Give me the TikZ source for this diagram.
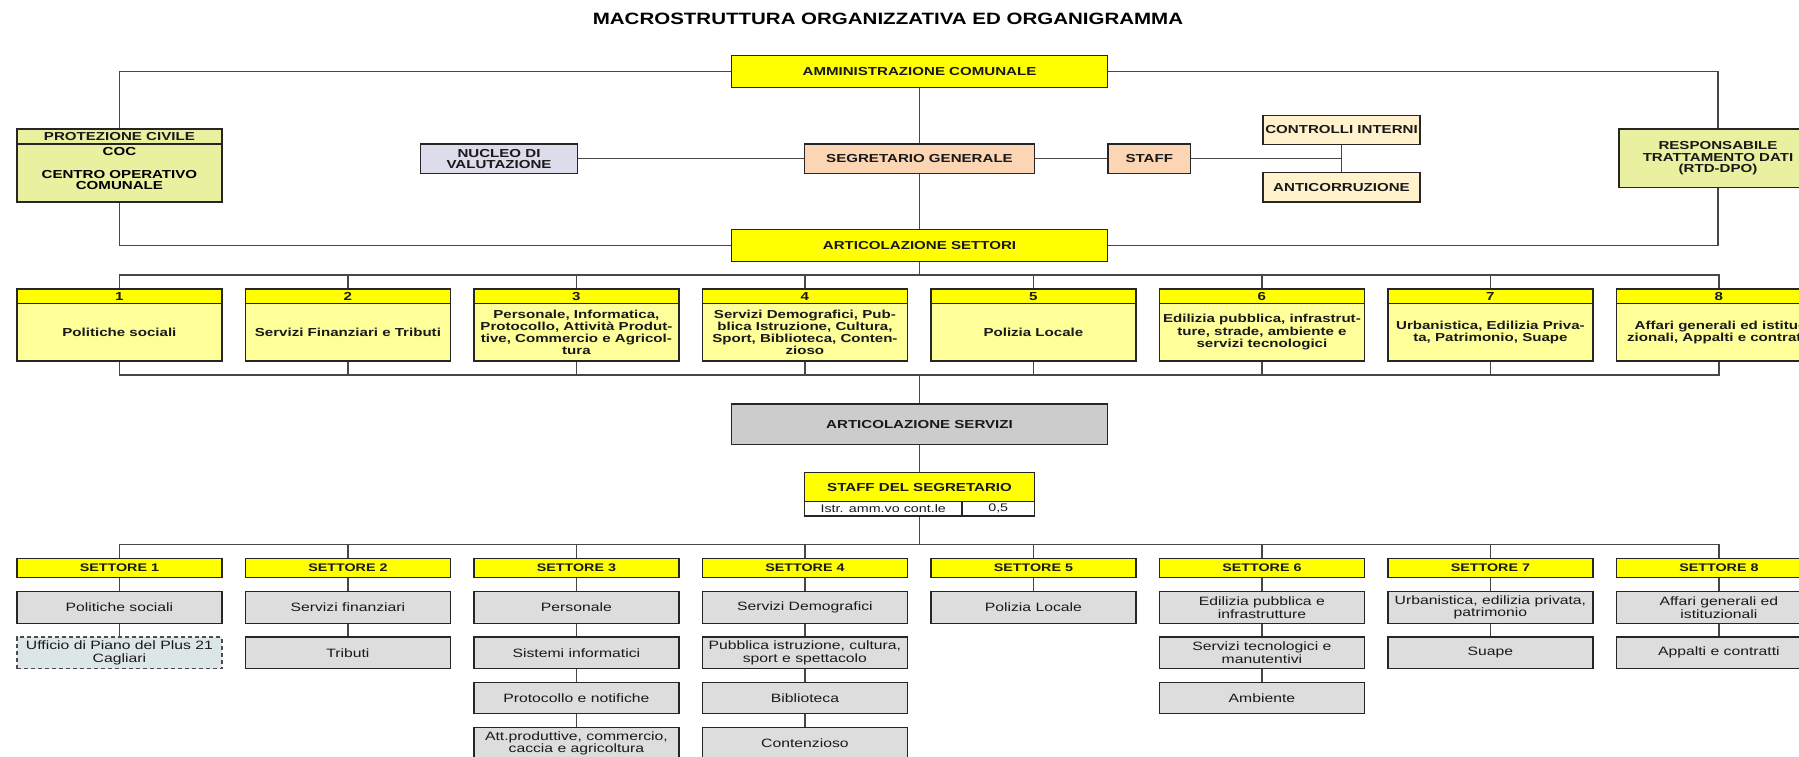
\documentclass[tikz,border=0pt]{standalone}
\usepackage{fontspec}
\setmainfont{Liberation Sans}
\newfontfamily\bxfont[FakeStretch=1.3]{Liberation Sans}
\newfontfamily\ttlfont[FakeStretch=1.25]{Liberation Sans}
\definecolor{ybright}{HTML}{FFFF00}
\definecolor{ylight}{HTML}{FFFF99}
\definecolor{ygreen}{RGB}{233,241,160}
\definecolor{peach}{HTML}{FCD5B4}
\definecolor{cream}{HTML}{FFF2CC}
\definecolor{lavender}{RGB}{220,220,235}
\definecolor{servgray}{HTML}{CCCCCC}
\definecolor{boxgray}{HTML}{DDDDDD}
\definecolor{uffgray}{RGB}{221,230,230}
\begin{document}
\begin{tikzpicture}[x=1pt,y=-1pt,
  conn/.style={draw=black!72,line width=1.4pt},
  bx/.style={draw=black!85,line width=1.2pt,inner sep=0pt,align=center,text=black!90},
  fb/.style={font=\bxfont\bfseries\fontsize{11.6}{12.2}\selectfont},
  fbt/.style={font=\bxfont\bfseries\fontsize{11.6}{11.2}\selectfont},
  fh/.style={font=\bxfont\bfseries\fontsize{11}{12}\selectfont},
  fg/.style={font=\bxfont\fontsize{12.1}{12.5}\selectfont},
  fi/.style={font=\bxfont\fontsize{11}{12}\selectfont},
  secthead/.style={bx,fb,fill=ybright,minimum width=205pt,minimum height=14.3pt},
  sectbody/.style={bx,fb,fill=ylight,minimum width=205pt,minimum height=57.7pt},
  setthead/.style={bx,fh,fill=ybright,minimum width=205pt,minimum height=19pt},
  gbox/.style={bx,fg,fill=boxgray,minimum width=205pt,minimum height=31.5pt},
  ubox/.style={bx,fg,fill=uffgray,draw=black!70,dash pattern=on 4pt off 3pt,minimum width=205pt,minimum height=31.5pt}
]
\useasboundingbox (0,0) rectangle (1799,756);
\fill[white] (0,0) rectangle (1799,756);

% title
\node[font=\ttlfont\bfseries\fontsize{16.4}{20}\selectfont,inner sep=0pt] (title) at (888,18.5) {MACROSTRUTTURA ORGANIZZATIVA ED ORGANIGRAMMA};

% top level boxes
\node[bx,fb,fill=ybright,minimum width=376.6pt,minimum height=32pt] (amm) at (919.5,71.3) {AMMINISTRAZIONE COMUNALE};
\node[bx,fb,fill=peach,minimum width=230pt,minimum height=29.3pt] (seg) at (919.5,158.7) {SEGRETARIO GENERALE};
\node[bx,fb,fill=peach,minimum width=82.5pt,minimum height=29.3pt] (staff) at (1149.3,158.7) {STAFF};
\node[bx,fb,fill=ybright,minimum width=376.6pt,minimum height=32pt] (set) at (919.5,245.6) {ARTICOLAZIONE SETTORI};
\node[bx,fbt,fill=lavender,minimum width=157pt,minimum height=29.3pt] (nuc) at (499,158.7) {NUCLEO DI\\VALUTAZIONE};
\node[bx,fb,fill=cream,minimum width=157pt,minimum height=28.6pt] (ctrl) at (1341.5,130) {CONTROLLI INTERNI};
\node[bx,fb,fill=cream,minimum width=157pt,minimum height=29.3pt] (anti) at (1341.5,187.3) {ANTICORRUZIONE};
\node[bx,fb,fill=ygreen,minimum width=205pt,minimum height=15pt] (ph) at (119.4,136.5) {PROTEZIONE CIVILE};
\node[bx,fill=ygreen,minimum width=205pt,minimum height=58pt] (pb) at (119.4,173) {};
\node[fbt,align=center,inner sep=0pt] (pbt) at (119.4,168.5) {COC\\\mbox{}\\CENTRO OPERATIVO\\COMUNALE};
\node[bx,fbt,fill=ygreen,minimum width=198pt,minimum height=58.3pt] (resp) at (1718,158.2) {RESPONSABILE\\TRATTAMENTO DATI\\(RTD-DPO)};

% top connectors
\draw[conn] (amm.west) -| (ph.north);
\draw[conn] (pb.south) |- (set.west);
\draw[conn] (amm.east) -| (resp.north);
\draw[conn] (resp.south) |- (set.east);
\draw[conn] (amm.south) -- (seg.north);
\draw[conn] (seg.south) -- (set.north);
\draw[conn] (nuc.east) -- (seg.west);
\draw[conn] (seg.east) -- (staff.west);
\draw[conn] (staff.east) -- (staff.east -| ctrl.south);
\draw[conn] (ctrl.south) -- (anti.north);

% sectors
\foreach \i/\t in {
  1/{Politiche sociali},
  2/{Servizi Finanziari e Tributi},
  3/{Personale, Informatica,\\Protocollo, Attività Produt-\\tive, Commercio e Agricol-\\tura},
  4/{Servizi Demografici, Pub-\\blica Istruzione, Cultura,\\Sport, Biblioteca, Conten-\\zioso},
  5/{Polizia Locale},
  6/{Edilizia pubblica, infrastrut-\\ture, strade, ambiente e\\servizi tecnologici},
  7/{Urbanistica, Edilizia Priva-\\ta, Patrimonio, Suape},
  8/{Affari generali ed istitu-\\zionali, Appalti e contratti}}{
  \pgfmathsetmacro\cx{119.4+228.5*(\i-1)}
  \node[secthead] (h\i) at (\cx,296.2) {\i};
  \node[sectbody] (b\i) at (\cx,332.15) {\t};
  \node[setthead] (S\i) at (\cx,567.8) {SETTORE \i};
}

\coordinate (tb) at (919.5,275);
\coordinate (mb) at (919.5,375);
\draw[conn] (set.south) -- (tb);
\draw[conn] (h1.north) -- (h1.north |- tb) -| (h8.north);
\draw[conn] (b1.south) -- (b1.south |- mb) -| (b8.south);
\foreach \i in {2,...,7}{
  \draw[conn] (h\i.north) -- (h\i.north |- tb);
  \draw[conn] (b\i.south) -- (b\i.south |- mb);
}

% servizi
\node[bx,fb,fill=servgray,minimum width=376.6pt,minimum height=40.3pt] (serv) at (919.5,424.2) {ARTICOLAZIONE SERVIZI};
\draw[conn] (mb) -- (serv.north);
\node[bx,fb,fill=ybright,minimum width=230pt,minimum height=29pt] (sds) at (919.5,487.2) {STAFF DEL SEGRETARIO};
\node[bx,fi,fill=white,minimum width=157.5pt,minimum height=14.3pt] (sdl) at (883.25,508.85) {Istr. amm.vo cont.le};
\node[bx,fi,fill=white,minimum width=72.5pt,minimum height=14.3pt] (sdr) at (998.25,508.85) {0,5};
\draw[conn] (serv.south) -- (sds.north);

\coordinate (bb) at (919.5,544.3);
\draw[conn] (sdl.south -| sds.south) -- (bb);
\draw[conn] (S1.north) -- (S1.north |- bb) -| (S8.north);
\foreach \i in {2,...,7}{
  \draw[conn] (S\i.north) -- (S\i.north |- bb);
}

% service boxes
\node[gbox] (s1a) at (119.4,607.45) {Politiche sociali};
\node[ubox] (s1b) at (119.4,652.75) {Ufficio di Piano del Plus 21\\Cagliari};
\node[gbox] (s2a) at (347.9,607.45) {Servizi finanziari};
\node[gbox] (s2b) at (347.9,652.75) {Tributi};
\node[gbox] (s3a) at (576.4,607.45) {Personale};
\node[gbox] (s3b) at (576.4,652.75) {Sistemi informatici};
\node[gbox] (s3c) at (576.4,698.05) {Protocollo e notifiche};
\node[gbox] (s3d) at (576.4,743.35) {Att.produttive, commercio,\\caccia e agricoltura};
\node[gbox] (s4a) at (804.9,607.45) {Servizi Demografici};
\node[gbox] (s4b) at (804.9,652.75) {Pubblica istruzione, cultura,\\sport e spettacolo};
\node[gbox] (s4c) at (804.9,698.05) {Biblioteca};
\node[gbox] (s4d) at (804.9,743.35) {Contenzioso};
\node[gbox] (s5a) at (1033.4,607.45) {Polizia Locale};
\node[gbox] (s6a) at (1261.9,607.45) {Edilizia pubblica e\\infrastrutture};
\node[gbox] (s6b) at (1261.9,652.75) {Servizi tecnologici e\\manutentivi};
\node[gbox] (s6c) at (1261.9,698.05) {Ambiente};
\node[gbox] (s7a) at (1490.4,607.45) {Urbanistica, edilizia privata,\\patrimonio};
\node[gbox] (s7b) at (1490.4,652.75) {Suape};
\node[gbox] (s8a) at (1718.9,607.45) {Affari generali ed\\istituzionali};
\node[gbox] (s8b) at (1718.9,652.75) {Appalti e contratti};

\foreach \i in {1,...,8}{\draw[conn] (S\i.south) -- (s\i a.north);}
\draw[conn] (s1a.south) -- (s1b.north);
\draw[conn] (s2a.south) -- (s2b.north);
\draw[conn] (s3a.south) -- (s3b.north);
\draw[conn] (s3b.south) -- (s3c.north);
\draw[conn] (s3c.south) -- (s3d.north);
\draw[conn] (s4a.south) -- (s4b.north);
\draw[conn] (s4b.south) -- (s4c.north);
\draw[conn] (s4c.south) -- (s4d.north);
\draw[conn] (s6a.south) -- (s6b.north);
\draw[conn] (s6b.south) -- (s6c.north);
\draw[conn] (s7a.south) -- (s7b.north);
\draw[conn] (s8a.south) -- (s8b.north);
\end{tikzpicture}
\end{document}
